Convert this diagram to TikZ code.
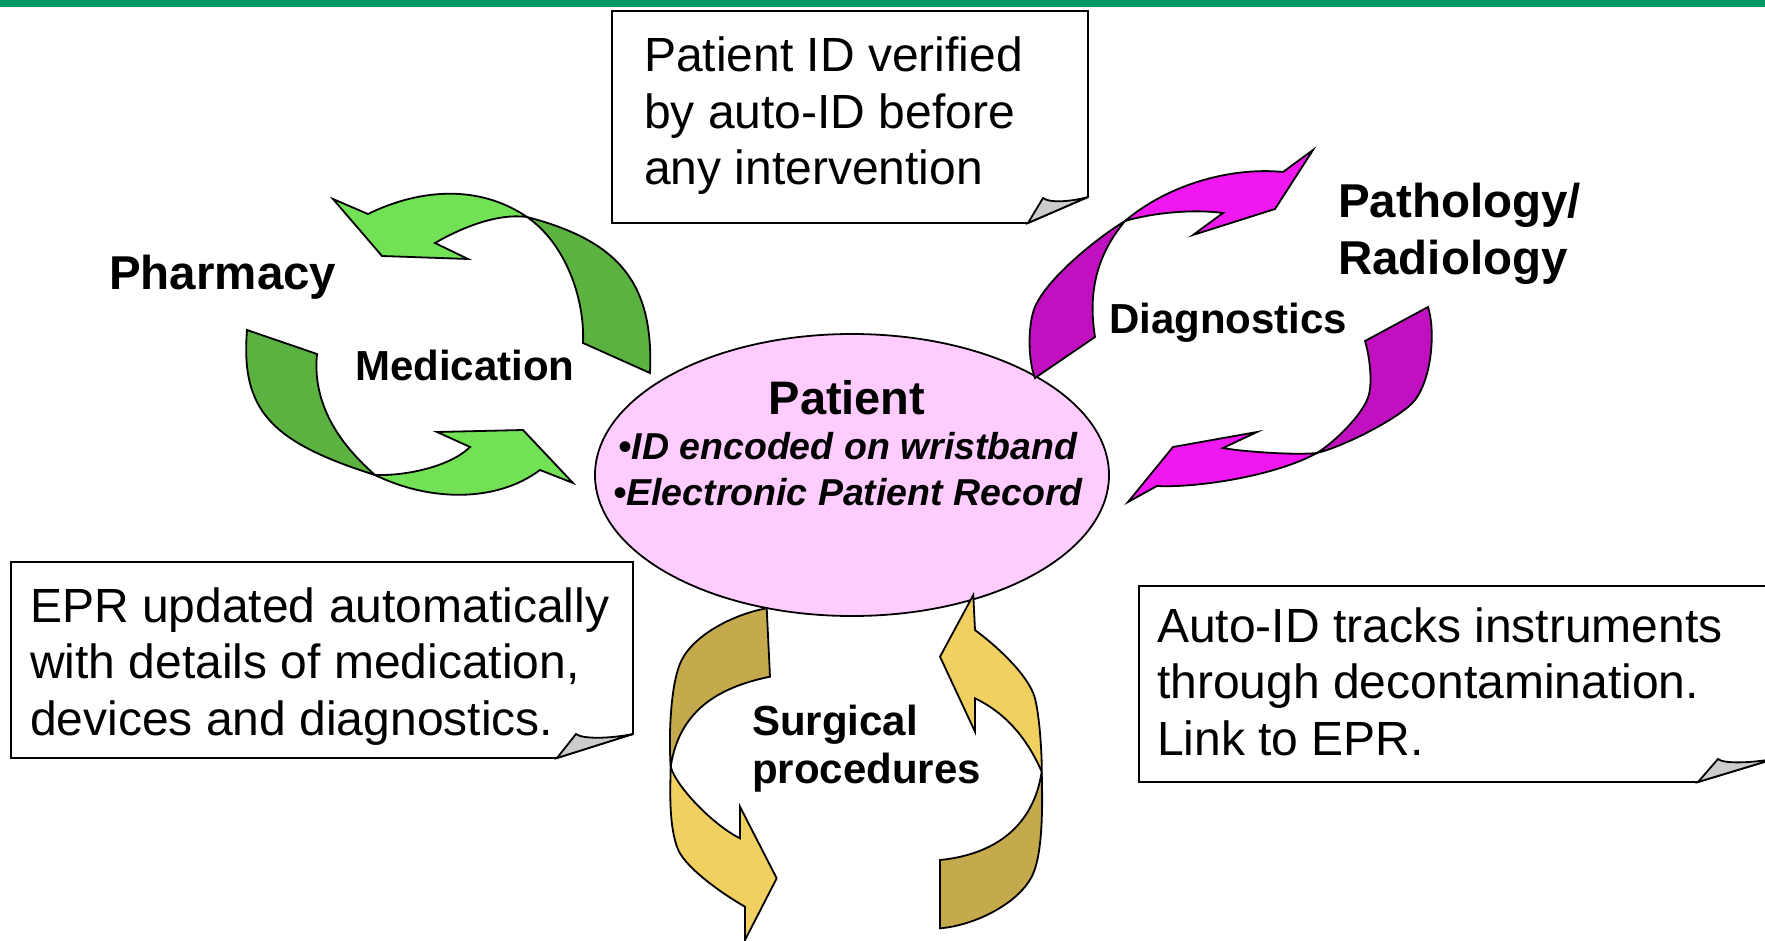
\documentclass[tikz,border=0pt]{standalone}
\usepackage{fontspec}
\setmainfont{Liberation Sans}
\usetikzlibrary{shapes.geometric}

\definecolor{barGreen}{RGB}{0,153,102}
\definecolor{greenLight}{RGB}{115,225,85}
\definecolor{greenDark}{RGB}{92,178,64}
\definecolor{magLight}{RGB}{240,24,240}
\definecolor{magDark}{RGB}{192,16,192}
\definecolor{goldLight}{RGB}{240,208,96}
\definecolor{goldDark}{RGB}{196,170,76}
\definecolor{patientPink}{RGB}{255,204,255}
\definecolor{foldGray}{RGB}{204,204,204}

% several left-aligned lines whose reference point is the first baseline
\newcommand\linestack[1]{\begin{tabular}[t]{@{}l@{}}#1\end{tabular}}

\tikzset{
  outline/.style={draw=black, line width=1.8pt},
  notebox/.style={outline, fill=white},
  noteflap/.style={outline, fill=foldGray},
  notetext/.style={anchor=base west, inner sep=0pt, font=\fontsize{48}{56.5}\selectfont},
  biglabel/.style={anchor=base west, inner sep=0pt, font=\fontsize{47.5}{57}\selectfont\bfseries},
  cyclelabel/.style={anchor=base west, inner sep=0pt, font=\fontsize{42}{48}\selectfont\bfseries},
  gl/.style={outline, fill=greenLight},
  gd/.style={outline, fill=greenDark},
  ml/.style={outline, fill=magLight},
  md/.style={outline, fill=magDark},
  yl/.style={outline, fill=goldLight},
  yd/.style={outline, fill=goldDark},
}

\begin{document}
\begin{tikzpicture}[x=1pt, y=-1pt]
\useasboundingbox (0,0) rectangle (1765,941);
\clip (0,0) rectangle (1765,941);

% title rule
\fill[barGreen] (0,0) rectangle (1765,7);

% ---- notes with turned-up corners ----
\filldraw[notebox] (612,11) -- (1088,11) -- (1088,197) -- (1028,223) -- (612,223) -- cycle;
\filldraw[noteflap] (1028,223) -- (1043,198) .. controls (1049,203) and (1070,202) .. (1088,197) -- cycle;
\node[notetext] (noteTop) at (644,72) {\linestack{Patient ID verified\\by auto-ID before\\any intervention}};

\filldraw[notebox] (11,562) -- (633,562) -- (633,734) -- (557,758) -- (11,758) -- cycle;
\filldraw[noteflap] (557,758) -- (576,734) .. controls (582,739) and (608,739) .. (633,734) -- cycle;
\node[notetext] (noteLeft) at (30,622) {\linestack{EPR updated automatically\\with details of medication,\\devices and diagnostics.}};

\filldraw[notebox] (1139,586) -- (1774,586) -- (1774,759) -- (1698,782) -- (1139,782) -- cycle;
\filldraw[noteflap] (1698,782) -- (1718,759) .. controls (1724,764) and (1750,763) .. (1774,759) -- cycle;
\node[notetext] (noteRight) at (1157,642) {\linestack{Auto-ID tracks instruments\\through decontamination.\\Link to EPR.}};

% ---- patient ----
\node[ellipse, outline, fill=patientPink, minimum width=514pt, minimum height=282pt, inner sep=0pt] (patient) at (852,475) {};
\node[anchor=base, inner sep=0pt, font=\fontsize{47}{56}\selectfont\bfseries] (patientTitle) at (847,414) {Patient};
\node[anchor=base, inner sep=0pt, font=\fontsize{37.5}{46}\selectfont\bfseries\itshape] (patientId) at (848,459) {•ID encoded on wristband};
\node[anchor=base, inner sep=0pt, font=\fontsize{37.5}{46}\selectfont\bfseries\itshape] (patientEpr) at (848,505) {•Electronic Patient Record};

% ---- medication cycle (green) ----
\filldraw[gd] (527,217) .. controls (565,243) and (585,298) .. (583,343)
  -- (650,373) .. controls (654,283) and (619,241) .. (527,217) -- cycle;
\filldraw[gl] (527,217) .. controls (477,183) and (417,190) .. (368,214)
  -- (333,199) -- (382,256) -- (468,259) -- (435,243)
  .. controls (461,228) and (497,213) .. (527,217) -- cycle;

\filldraw[gd] (375,475) .. controls (270.5,442) and (240.6,410) .. (247,330)
  -- (317,354) .. controls (311,414) and (352.5,455) .. (375,475) -- cycle;
\filldraw[gl] (375,475) .. controls (410,476) and (452,465) .. (470,447)
  -- (437,432) -- (523,430) -- (573,483) -- (540,470)
  .. controls (496,503) and (429,501.4) .. (375,475) -- cycle;

% ---- diagnostics cycle (magenta) ----
\filldraw[md] (1125,221) .. controls (1096,256) and (1088,293) .. (1095,337)
  -- (1035,378) .. controls (1027,358) and (1028,318) .. (1036.7,303.3)
  .. controls (1050.2,276.6) and (1095.3,239.2) .. (1125,221) -- cycle;
\filldraw[ml] (1125,221) .. controls (1170,183) and (1233.5,167) .. (1283,172)
  -- (1313,150) -- (1275,209) -- (1193,235) -- (1223,213)
  .. controls (1193,209) and (1153.8,212.6) .. (1125,221) -- cycle;

\filldraw[md] (1317,453) .. controls (1346,445.8) and (1403,416) .. (1415,400)
  .. controls (1433,376) and (1435,328) .. (1428,307)
  -- (1365,341) .. controls (1369.4,355.4) and (1373,382.5) .. (1368.3,396.7)
  .. controls (1361.9,415.7) and (1334,442.4) .. (1317,453) -- cycle;
\filldraw[ml] (1317,453) .. controls (1292,455.5) and (1237.7,451) .. (1223,448)
  -- (1257,432) -- (1173,447) -- (1128,502) -- (1157,486)
  .. controls (1197,488) and (1275,476) .. (1317,453) -- cycle;

% ---- surgical cycle (gold) ----
\filldraw[yd] (670.7,766.7) .. controls (668.6,736.7) and (670.3,682.3) .. (681.7,660)
  .. controls (695.4,633) and (737,613.4) .. (766.7,608.3)
  -- (770,676.7) .. controls (716,687.7) and (679,712.2) .. (670.7,766.7) -- cycle;
\filldraw[yl] (670.7,766.7) .. controls (675.7,786.1) and (713,825) .. (740,838.3)
  -- (740,806.7) -- (776.7,878.3) -- (745,940) -- (745,906.7)
  .. controls (723.3,894.5) and (686.3,868.4) .. (678.3,850)
  .. controls (668.3,827) and (670.3,786.7) .. (670.7,766.7) -- cycle;

\filldraw[yd] (1041.7,771.7) .. controls (1042.6,801.7) and (1043,850.3) .. (1033.3,873.3)
  .. controls (1020.8,902.7) and (975,925.5) .. (940,928.3)
  -- (940,860) .. controls (995,854.5) and (1033.5,826.2) .. (1041.7,771.7) -- cycle;
\filldraw[yl] (1041.7,771.7) .. controls (1042.2,756.7) and (1039.2,707.1) .. (1033.3,693.3)
  .. controls (1023.6,670.3) and (995,645) .. (975,630)
  -- (973.3,595) -- (940,656.7) -- (975,731.7) -- (975,698.3)
  .. controls (1006.5,713.4) and (1027.7,739.5) .. (1041.7,771.7) -- cycle;

% ---- labels ----
\node[biglabel] (pharmacy) at (109,290) {Pharmacy};
\node[cyclelabel] (medication) at (355,381) {Medication};
\node[biglabel] (pathology) at (1338,218) {\linestack{Pathology/\\Radiology}};
\node[cyclelabel] (diagnostics) at (1109,334) {Diagnostics};
\node[cyclelabel] (surgical) at (752,735) {\linestack{Surgical\\procedures}};
\end{tikzpicture}
\end{document}
